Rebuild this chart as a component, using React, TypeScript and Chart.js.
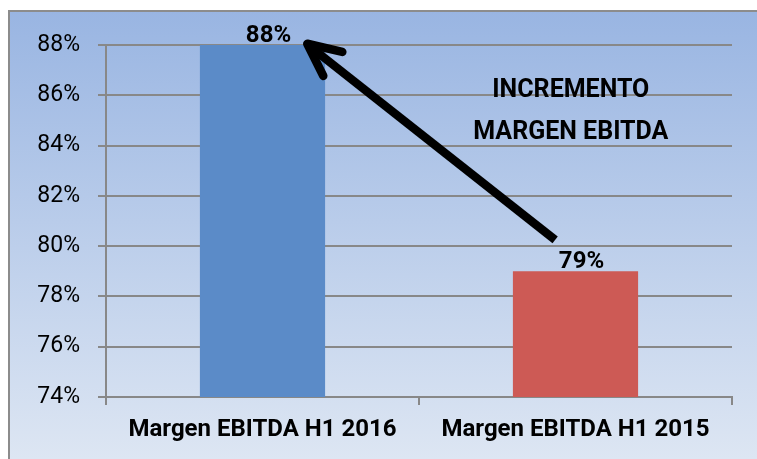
import React, { useEffect, useRef } from "react";
import { Chart, registerables } from "chart.js";
Chart.register(...registerables);

const categories = ["Margen EBITDA H1 2016", "Margen EBITDA H1 2015"];
const values = [88, 79];
const valueLabels = ["88%", "79%"];
const barColors = ["#5B8BC8", "#CD5A55"];
const yMin = 74;
const yMax = 88;
const yStep = 2;
const annotationLines = ["INCREMENTO", "MARGEN EBITDA"];
// arrow ends as [category position, value]
const arrowTail = [0.935, 80.25];
const arrowTip = [0.143, 88.05];
const annotationAnchor = [0.985, 86.2];

const FONT = "Roboto, 'Liberation Sans', Arial, sans-serif";

const decorPlugin = {
  id: "decor",
  beforeDraw(chart: any) {
    const { ctx, width, height } = chart;
    ctx.save();
    ctx.fillStyle = "#ffffff";
    ctx.fillRect(0, 0, width, height);
    const g = ctx.createLinearGradient(0, 11, 0, height);
    g.addColorStop(0, "#99B5E2");
    g.addColorStop(1, "#DDE6F3");
    ctx.fillStyle = g;
    ctx.fillRect(9, 11, width - 9, height - 11);
    ctx.strokeStyle = "#8C8C8C";
    ctx.lineWidth = 2;
    ctx.beginPath();
    ctx.moveTo(9, height);
    ctx.lineTo(9, 11);
    ctx.lineTo(width, 11);
    ctx.stroke();
    ctx.restore();
  },
  afterDatasetsDraw(chart: any) {
    const { ctx } = chart;
    const xs = chart.scales.x;
    const ys = chart.scales.y;
    const meta = chart.getDatasetMeta(0);
    ctx.save();
    ctx.fillStyle = "#000";
    ctx.font = `bold 24px ${FONT}`;
    ctx.textAlign = "center";
    ctx.textBaseline = "alphabetic";
    meta.data.forEach((bar: any, i: number) => {
      ctx.fillText(valueLabels[i], bar.x + 6, bar.y - 3);
    });
    const p0 = xs.getPixelForValue(0);
    const p1 = xs.getPixelForValue(1);
    const px = (c: number) => p0 + c * (p1 - p0);
    // annotation text
    const ax = px(annotationAnchor[0]);
    const ay = ys.getPixelForValue(annotationAnchor[1]);
    ctx.font = `bold 25px ${FONT}`;
    ctx.textBaseline = "middle";
    annotationLines.forEach((t, i) => {
      ctx.fillText(t, ax, ay + i * 42);
    });
    // arrow
    const tx = px(arrowTail[0]);
    const ty = ys.getPixelForValue(arrowTail[1]);
    const hx = px(arrowTip[0]);
    const hy = ys.getPixelForValue(arrowTip[1]);
    ctx.strokeStyle = "#000";
    ctx.lineWidth = 8.5;
    ctx.lineCap = "butt";
    ctx.lineJoin = "round";
    ctx.beginPath();
    ctx.moveTo(tx, ty);
    ctx.lineTo(hx + 3, hy + 3);
    ctx.stroke();
    const ang = Math.atan2(ty - hy, tx - hx);
    const wing = 36;
    const spread = 0.44;
    ctx.lineCap = "round";
    ctx.beginPath();
    ctx.moveTo(hx + wing * Math.cos(ang - spread), hy + wing * Math.sin(ang - spread));
    ctx.lineTo(hx, hy);
    ctx.lineTo(hx + wing * Math.cos(ang + spread), hy + wing * Math.sin(ang + spread));
    ctx.stroke();
    ctx.restore();
  },
};

export default function App() {
  const ref = useRef<HTMLCanvasElement>(null);
  useEffect(() => {
    const chart = new Chart(ref.current!, {
      type: "bar",
      data: {
        labels: categories,
        datasets: [
          {
            data: values,
            backgroundColor: barColors,
            borderWidth: 0,
            barPercentage: 0.4,
            categoryPercentage: 1,
          },
        ],
      },
      options: {
        animation: false,
        responsive: false,
        layout: { padding: { left: 0, top: 45, right: 25, bottom: 0 } },
        plugins: { legend: { display: false }, tooltip: { enabled: false } },
        scales: {
          x: {
            afterFit(scale: any) {
              scale.height = 62;
            },
            grid: {
              display: true,
              drawOnChartArea: false,
              drawTicks: true,
              tickLength: 8,
              color: "#888888",
              lineWidth: 2,
            },
            border: { display: true, color: "#888888", width: 2 },
            ticks: {
              color: "#000",
              padding: 11,
              font: { family: FONT, size: 24, weight: "bold" },
            },
          },
          y: {
            min: yMin,
            max: yMax,
            afterFit(scale: any) {
              scale.width = 106;
            },
            grid: {
              color: "#888888",
              lineWidth: 2,
              tickLength: 8,
            },
            border: { display: true, color: "#888888", width: 2 },
            ticks: {
              stepSize: yStep,
              color: "#000",
              padding: 18,
              font: { family: FONT, size: 23 },
              callback: (v: any) => `${v}%`,
            },
          },
        },
      },
      plugins: [decorPlugin],
    } as any);
    return () => chart.destroy();
  }, []);
  return (
    <div style={{ position: "absolute", left: 0, top: 0, width: 757, height: 459 }}>
      <canvas ref={ref} width={757} height={459} style={{ display: "block" }} />
    </div>
  );
}
